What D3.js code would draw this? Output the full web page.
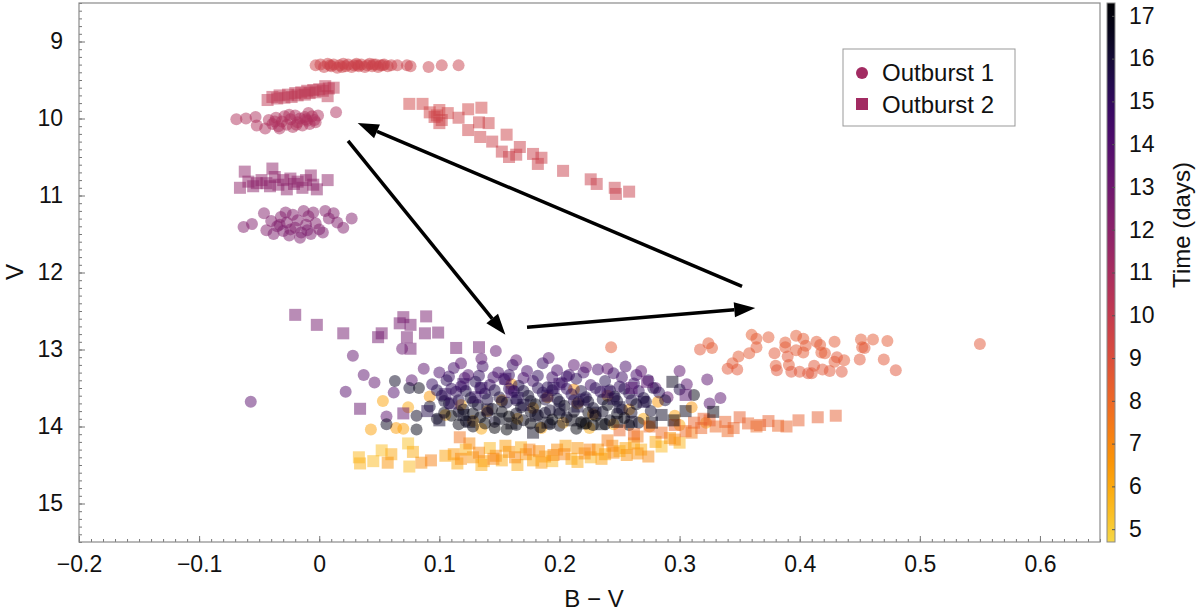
<!DOCTYPE html>
<html>
<head>
<meta charset="utf-8">
<script src="https://cdn.jsdelivr.net/npm/d3@7"></script>
<style>
  body { margin: 0; background: #fff; }
  text { font-family: "Liberation Sans", Arial, sans-serif; }
</style>
</head>
<body>
<div id="chart"></div>
<script>
// ---- data: [B-V, V, time (days)] ----
// Outburst 1 (circles)
const o1Rise = [
  [0.053,13.67,6.2],[0.074,13.75,6.0],[0.043,14.04,6.3],[0.064,14.02,6.4],[0.070,14.03,6.2],[0.092,13.61,6.5],
  [0.105,13.85,5.8],[0.118,13.72,6.0],[0.128,13.93,5.9],[0.140,13.80,6.1],[0.152,13.66,6.0],[0.165,13.90,5.7],
  [0.178,13.76,6.2],[0.190,13.62,6.3],[0.203,13.95,5.9],[0.215,13.70,6.0],[0.228,13.84,6.1],[0.240,13.60,6.4],
  [0.245,13.97,5.8],[0.258,13.78,6.2],[0.270,13.90,6.0],[0.282,13.68,6.5],[0.296,13.86,6.3],[0.310,13.75,6.6],
  [0.322,13.95,6.2],[0.212,13.52,6.6],[0.160,13.45,6.5],[0.135,14.03,6.0],[0.185,14.02,6.3],[0.225,14.02,5.9],
  [0.275,14.00,6.4],[0.300,13.98,6.1]
];
const o1Red = [
  [0.243,12.97,8.6],[0.317,13.00,8.7],[0.324,12.92,8.6],[0.327,12.98,8.5],[0.340,13.25,8.7],[0.344,13.18,8.6],
  [0.348,13.26,8.7],[0.349,13.09,8.5],[0.358,13.05,8.6],[0.360,12.81,8.4],[0.364,12.86,8.5],[0.364,12.97,8.6],
  [0.374,12.84,8.6],[0.379,13.05,8.7],[0.380,13.21,8.6],[0.381,13.27,8.8],[0.388,12.91,8.5],[0.388,12.97,8.6],
  [0.390,13.09,8.7],[0.391,13.20,8.6],[0.393,13.29,8.8],[0.397,12.82,8.5],[0.397,13.01,8.6],[0.400,13.29,8.7],
  [0.403,12.86,8.5],[0.405,12.95,8.6],[0.403,13.04,8.6],[0.407,13.31,8.8],[0.410,13.31,8.7],[0.414,12.90,8.6],
  [0.412,13.21,8.7],[0.417,12.94,8.5],[0.418,13.04,8.6],[0.419,13.26,8.7],[0.421,13.05,8.6],[0.425,13.28,8.7],
  [0.429,12.90,8.6],[0.429,13.16,8.6],[0.431,13.10,8.7],[0.435,13.29,8.8],[0.437,13.14,8.6],[0.450,13.13,8.7],
  [0.451,12.87,8.6],[0.452,12.97,8.6],[0.454,12.98,8.7],[0.461,12.87,8.6],[0.470,13.13,8.7],[0.473,12.89,8.6],
  [0.480,13.27,8.8],[0.550,12.93,8.7]
];
const o1Peak = [
  [-0.003,9.31,9.6],[0.001,9.30,9.6],[0.004,9.33,9.7],[0.007,9.29,9.6],[0.010,9.32,9.7],[0.012,9.30,9.6],
  [0.015,9.34,9.7],[0.017,9.31,9.6],[0.020,9.29,9.7],[0.022,9.32,9.6],[0.024,9.30,9.7],[0.027,9.33,9.6],
  [0.029,9.31,9.7],[0.031,9.29,9.6],[0.033,9.32,9.7],[0.035,9.30,9.6],[0.038,9.33,9.7],[0.040,9.31,9.6],
  [0.042,9.29,9.7],[0.044,9.32,9.6],[0.047,9.30,9.7],[0.049,9.33,9.6],[0.051,9.31,9.7],[0.053,9.31,9.6],
  [0.054,9.30,9.7],[0.057,9.32,9.6],[0.060,9.31,9.7],[0.065,9.31,9.7],[0.073,9.31,9.7],[0.076,9.32,9.7],
  [0.091,9.33,9.8],[0.102,9.31,9.8],[0.116,9.31,9.8],[0.009,9.31,9.6],[0.019,9.33,9.6],[0.032,9.31,9.6],
  [0.045,9.30,9.6]
];
const o1Fade1 = [
  [-0.069,10.01,10.7],[-0.061,10.00,10.7],[-0.053,9.98,10.8],[-0.052,10.09,10.7],[-0.045,10.13,10.8],
  [-0.042,10.02,10.7],[-0.039,10.07,10.8],[-0.036,9.99,10.7],[-0.034,10.10,10.8],[-0.031,10.04,10.7],
  [-0.029,9.97,10.8],[-0.027,10.08,10.7],[-0.024,10.01,10.8],[-0.022,10.11,10.7],[-0.020,9.96,10.8],
  [-0.018,10.05,10.7],[-0.016,10.00,10.8],[-0.014,10.09,10.7],[-0.012,9.98,10.8],[-0.010,10.03,10.7],
  [-0.008,10.07,10.8],[-0.006,9.97,10.7],[-0.004,10.02,10.8],[-0.003,10.05,10.7],[-0.001,9.96,10.8],
  [0.014,9.92,10.8],[-0.025,9.95,10.7],[-0.033,10.13,10.8],[-0.009,9.93,10.7],[-0.037,10.04,10.8],
  [-0.019,10.08,10.7],[-0.011,10.01,10.8]
];
const o1Fade2 = [
  [-0.063,11.41,12.4],[-0.056,11.37,12.4],[-0.046,11.23,12.3],[-0.044,11.45,12.4],[-0.040,11.33,12.4],
  [-0.038,11.50,12.5],[-0.035,11.40,12.4],[-0.032,11.28,12.3],[-0.030,11.46,12.5],[-0.027,11.35,12.4],
  [-0.025,11.52,12.5],[-0.022,11.25,12.3],[-0.020,11.42,12.4],[-0.018,11.32,12.4],[-0.015,11.48,12.5],
  [-0.013,11.20,12.3],[-0.011,11.38,12.4],[-0.009,11.27,12.3],[-0.007,11.50,12.5],[-0.005,11.22,12.3],
  [-0.003,11.36,12.4],[0.000,11.44,12.4],[0.003,11.48,12.5],[0.005,11.20,12.3],[0.008,11.30,12.4],
  [0.012,11.23,12.3],[0.015,11.35,12.4],[0.020,11.42,12.4],[0.027,11.30,12.4],[-0.028,11.22,12.3],
  [-0.016,11.55,12.5],[-0.033,11.38,12.4],[-0.024,11.44,12.4],[-0.010,11.45,12.5]
];
const o1Decline = [
  [0.028,13.08,13.4],[0.037,13.33,13.6],[0.046,13.43,13.5],[0.022,13.55,13.8],[-0.057,13.68,13.7],
  [0.062,13.56,13.9],[0.056,13.87,13.6],[0.069,12.99,13.2],[0.147,13.02,13.5],[0.135,13.12,13.7],
  [0.087,13.25,13.6],[0.077,13.40,13.8],[0.191,13.11,13.9],[0.164,13.14,13.6],[0.212,13.20,13.8],
  [0.222,13.23,13.5],[0.268,13.28,13.7],[0.300,13.28,13.6],[0.280,13.50,13.9],[0.290,13.62,13.5],
  [0.334,13.63,13.8],[0.323,13.39,13.7],[0.325,13.70,13.9],[0.306,13.45,13.8],[0.118,13.18,13.7],
  [0.240,13.25,13.6]
];
const o1Late = [
  [0.100,13.30,14.2],[0.112,13.24,14.5],[0.124,13.33,14.1],[0.136,13.22,14.6],[0.149,13.30,14.3],[0.161,13.20,14.7],
  [0.173,13.28,14.4],[0.186,13.18,14.8],[0.198,13.27,14.2],[0.208,13.33,14.6],[0.232,13.26,14.4],[0.245,13.31,14.7],
  [0.255,13.22,14.3],
  [0.108,13.35,14.8],[0.121,13.37,14.3],[0.133,13.34,15.0],[0.145,13.36,14.5],[0.158,13.33,14.9],[0.170,13.37,14.4],
  [0.182,13.34,15.1],[0.194,13.36,14.6],[0.206,13.35,14.9],[0.220,13.30,14.5],[0.252,13.36,14.7],[0.264,13.33,14.4],
  [0.094,13.45,14.9],[0.106,13.40,15.2],[0.118,13.48,14.6],[0.130,13.42,15.4],[0.142,13.46,14.8],[0.154,13.39,15.1],
  [0.166,13.47,15.5],[0.178,13.41,14.7],[0.190,13.49,15.3],[0.202,13.43,14.9],[0.214,13.38,15.2],[0.226,13.46,14.6],
  [0.238,13.41,15.4],[0.250,13.48,15.0],[0.262,13.44,14.8],[0.274,13.40,15.1],
  [0.098,13.53,15.4],[0.110,13.51,15.0],[0.122,13.54,15.7],[0.134,13.50,15.2],[0.146,13.53,15.6],[0.158,13.51,15.1],
  [0.170,13.54,15.8],[0.182,13.50,15.3],[0.194,13.53,15.5],[0.206,13.51,15.0],[0.218,13.54,15.7],[0.230,13.50,15.2],
  [0.242,13.53,15.6],[0.254,13.51,15.4],[0.266,13.54,15.1],[0.278,13.50,15.5],
  [0.102,13.60,15.6],[0.114,13.55,15.1],[0.126,13.63,16.0],[0.138,13.57,15.3],[0.150,13.62,15.8],[0.162,13.54,15.0],
  [0.174,13.60,16.1],[0.186,13.56,15.4],[0.198,13.64,15.9],[0.210,13.58,15.2],[0.222,13.62,15.7],[0.234,13.55,15.0],
  [0.246,13.61,16.2],[0.258,13.57,15.5],[0.270,13.63,15.8],[0.283,13.56,15.3],[0.300,13.52,15.6],
  [0.104,13.67,16.0],[0.116,13.66,15.5],[0.128,13.68,16.3],[0.140,13.65,15.7],[0.152,13.68,16.2],[0.164,13.66,15.6],
  [0.176,13.67,16.4],[0.188,13.65,15.8],[0.200,13.68,16.1],[0.212,13.66,15.5],[0.224,13.68,16.3],[0.236,13.65,15.9],
  [0.248,13.67,16.0],[0.260,13.66,15.6],[0.272,13.68,16.2],[0.288,13.66,15.9],
  [0.092,13.74,16.2],[0.108,13.70,15.8],[0.120,13.78,16.5],[0.132,13.72,16.0],[0.144,13.77,16.7],[0.156,13.69,15.9],
  [0.168,13.75,16.4],[0.180,13.71,16.8],[0.192,13.79,16.1],[0.204,13.73,16.6],[0.216,13.68,15.7],[0.228,13.76,16.3],
  [0.240,13.72,16.8],[0.252,13.78,16.0],[0.264,13.71,16.5],[0.276,13.80,16.2],
  [0.104,13.82,16.7],[0.116,13.81,16.3],[0.128,13.83,16.8],[0.140,13.82,16.2],[0.152,13.81,16.9],[0.164,13.83,16.4],
  [0.176,13.81,16.7],[0.188,13.82,16.3],[0.200,13.83,16.8],[0.212,13.81,16.5],[0.224,13.82,16.9],[0.236,13.81,16.4],
  [0.248,13.83,16.7],[0.260,13.82,16.3],
  [0.098,13.90,16.6],[0.110,13.86,17.0],[0.122,13.93,16.4],[0.134,13.88,16.9],[0.146,13.94,16.3],[0.158,13.87,17.1],
  [0.170,13.92,16.7],[0.182,13.85,16.5],[0.194,13.91,17.0],[0.206,13.88,16.4],[0.218,13.94,16.8],[0.230,13.86,17.2],
  [0.242,13.92,16.6],[0.254,13.89,16.9],[0.266,13.95,16.5],
  [0.116,13.97,16.9],[0.138,13.96,17.1],[0.176,13.96,17.0],[0.192,13.97,16.8],[0.222,13.96,17.1],[0.238,13.97,16.9],
  [0.258,13.98,17.2],
  [0.128,14.00,16.9],[0.146,14.02,17.2],[0.164,13.98,16.8],[0.184,14.01,17.1],[0.200,13.99,16.7],[0.214,14.03,17.0],
  [0.228,13.98,17.2],[0.156,14.04,17.1],
  [0.063,13.41,16.4],[0.083,13.50,16.7],[0.075,13.50,16.2],[0.056,13.97,16.5],[0.081,14.04,16.8],[0.081,13.86,16.5],
  [0.312,13.59,16.8]
];

// Outburst 2 (squares)
const o2Rise = [
  [0.033,14.40,5.6],[0.034,14.48,5.8],[0.052,14.31,5.4],[0.057,14.47,6.6],[0.074,14.22,5.3],[0.078,14.33,5.9],
  [0.075,14.52,5.5],[0.085,14.47,6.8],[0.093,14.44,7.2],[0.105,14.38,6.2],[0.112,14.36,6.5],[0.118,14.42,6.9],
  [0.122,14.30,5.8],[0.128,14.40,6.6],[0.133,14.34,7.0],[0.137,14.45,6.3],[0.142,14.28,5.6],[0.147,14.38,6.8],
  [0.152,14.44,6.1],[0.158,14.33,6.6],[0.163,14.40,7.0],[0.168,14.27,5.9],[0.172,14.36,6.7],[0.178,14.44,6.2],
  [0.183,14.32,6.9],[0.188,14.39,6.4],[0.194,14.45,5.7],[0.198,14.30,6.8],[0.204,14.36,7.1],[0.210,14.42,6.0],
  [0.215,14.28,6.6],[0.221,14.35,6.9],[0.226,14.40,5.8],[0.232,14.30,6.5],[0.238,14.36,6.2],[0.244,14.25,6.8],
  [0.250,14.32,5.6],[0.256,14.37,6.7],[0.262,14.22,6.3],[0.268,14.30,5.9],[0.274,14.39,7.0],[0.280,14.20,6.1],
  [0.285,14.26,5.5],[0.292,14.15,6.6],[0.300,14.21,5.7],[0.296,14.17,7.0],
  [0.115,14.48,6.0],[0.125,14.22,6.9],[0.135,14.50,5.9],[0.145,14.42,7.1],[0.155,14.25,6.4],[0.165,14.50,6.0],
  [0.175,14.30,7.2],[0.185,14.47,6.5],[0.195,14.37,7.0],[0.205,14.25,6.3],[0.215,14.46,6.1],[0.225,14.30,7.1],
  [0.235,14.42,6.4],[0.245,14.34,7.0],[0.255,14.28,6.2],[0.265,14.35,6.8],[0.060,14.36,6.0],[0.045,14.45,5.5],
  [0.117,14.14,7.6],[0.265,14.13,7.4],[0.240,14.18,7.3],[0.310,14.08,7.4]
];
const o2Red = [
  [0.250,14.05,8.1],[0.262,14.10,8.0],[0.275,14.00,8.2],[0.285,14.08,7.9],[0.296,13.98,8.3],[0.305,14.06,8.0],
  [0.312,13.95,8.2],[0.318,14.02,8.1],[0.325,13.92,8.3],[0.330,14.00,8.0],[0.338,13.94,8.2],[0.345,14.02,8.1],
  [0.350,13.88,8.3],[0.357,13.96,8.2],[0.364,14.00,8.0],[0.367,13.98,8.2],[0.374,13.93,8.3],[0.382,13.99,8.1],
  [0.389,14.00,8.2],[0.399,13.92,8.3],[0.415,13.88,8.4],[0.430,13.86,8.4],[0.340,14.06,8.0],[0.320,13.90,8.3]
];
const o2Peak = [
  [0.075,9.81,9.5],[0.086,9.81,9.5],[0.092,9.92,9.5],[0.096,9.98,9.6],[0.100,9.89,9.5],[0.102,10.02,9.6],
  [0.107,9.93,9.5],[0.100,10.06,9.6],[0.098,9.96,9.5],[0.116,9.99,9.6],[0.124,9.88,9.5],[0.135,9.86,9.5],
  [0.124,10.15,9.6],[0.133,10.05,9.6],[0.141,10.06,9.6],[0.134,10.24,9.6],[0.144,10.30,9.7],[0.156,10.21,9.6],
  [0.152,10.43,9.7],[0.158,10.50,9.7],[0.167,10.37,9.7],[0.164,10.47,9.7],[0.178,10.46,9.7],[0.185,10.51,9.7],
  [0.182,10.59,9.7],[0.203,10.68,9.8],[0.226,10.79,9.8],[0.231,10.85,9.8],[0.246,10.90,9.8],[0.247,10.98,9.8],
  [0.258,10.95,9.8]
];
const o2Fade1 = [
  [-0.043,9.76,10.2],[-0.039,9.72,10.2],[-0.035,9.74,10.3],[-0.033,9.70,10.2],[-0.029,9.73,10.3],[-0.026,9.69,10.2],
  [-0.023,9.72,10.3],[-0.020,9.67,10.2],[-0.018,9.70,10.3],[-0.015,9.66,10.2],[-0.012,9.69,10.3],[-0.010,9.64,10.2],
  [-0.008,9.67,10.3],[-0.005,9.63,10.2],[-0.003,9.66,10.3],[0.000,9.62,10.2],[0.003,9.64,10.3],[0.005,9.58,10.2],
  [0.008,9.61,10.3],[0.007,9.71,10.3],[0.012,9.60,10.2]
];
const o2Fade2 = [
  [-0.066,10.90,11.9],[-0.062,10.69,11.9],[-0.059,10.82,11.9],[-0.055,10.88,12.0],[-0.052,10.84,11.9],
  [-0.048,10.80,11.9],[-0.044,10.84,12.0],[-0.039,10.65,11.9],[-0.037,10.76,11.9],[-0.034,10.86,12.0],
  [-0.030,10.80,11.9],[-0.027,10.92,12.0],[-0.024,10.78,11.9],[-0.021,10.85,12.0],[-0.018,10.82,11.9],
  [-0.014,10.90,12.0],[-0.011,10.80,11.9],[-0.007,10.74,11.9],[-0.005,10.86,12.0],[-0.002,10.92,12.0],
  [0.007,10.80,11.9],[-0.041,10.88,12.0]
];
const o2Decline = [
  [-0.020,12.55,12.8],[-0.002,12.68,12.8],[0.020,12.79,12.9],[0.049,12.84,12.9],[0.052,12.79,12.8],
  [0.070,12.58,12.7],[0.067,12.66,12.8],[0.076,12.68,12.8],[0.073,12.84,12.9],[0.076,12.99,13.0],
  [0.089,12.57,12.7],[0.088,12.79,12.9],[0.099,12.78,12.9],[0.114,12.98,13.0],[0.133,12.97,13.1],
  [0.034,13.77,13.3],[0.070,13.83,13.4],[0.273,13.42,13.8],[0.260,13.50,13.9],[0.305,13.59,14.0]
];
const o2Late = [
  [0.328,13.81,16.8],[0.295,13.92,16.9],[0.277,13.95,16.7],[0.260,13.94,16.5],[0.248,13.94,16.9],[0.178,14.08,16.6],
  [0.294,13.42,16.5],[0.090,13.80,15.5],[0.100,13.92,16.2],[0.110,13.70,15.2],[0.120,13.85,16.6],[0.130,13.62,15.0],
  [0.140,13.78,16.1],[0.150,13.90,16.8],[0.160,13.55,14.8],[0.170,13.72,15.8],[0.180,13.86,16.4],[0.190,13.60,15.3],
  [0.200,13.78,16.0],[0.210,13.92,16.9],[0.220,13.65,15.5],[0.230,13.82,16.3],[0.240,13.55,15.0],[0.250,13.75,16.0],
  [0.235,13.97,17.0],[0.270,13.68,15.6],[0.285,13.85,16.4],[0.305,13.80,16.6],[0.200,13.45,14.8],[0.155,13.38,14.6],
  [0.120,13.45,14.9],[0.105,13.58,15.1],[0.135,13.50,15.0],[0.165,13.63,15.4],[0.195,13.50,15.2],[0.215,13.74,15.9],
  [0.245,13.64,15.5],[0.125,13.94,16.7],[0.160,13.96,16.9],[0.190,13.95,16.6],[0.220,13.96,17.1]
];

// arrows [B-V start, V start, B-V end, V end]
const arrows = [
  [0.024, 10.29, 0.155, 12.81],
  [0.173, 12.71, 0.363, 12.46],
  [0.352, 12.18, 0.032, 10.06]
];

const xTicks = [-0.2, -0.1, 0, 0.1, 0.2, 0.3, 0.4, 0.5, 0.6];
const yTicks = [9, 10, 11, 12, 13, 14, 15];
const cTicks = [5, 6, 7, 8, 9, 10, 11, 12, 13, 14, 15, 16, 17];
const legendLabels = ["Outburst 1", "Outburst 2"];

// ---- layout ----
var W = 1200, H = 611;
var plot = {left: 79, right: 1100, top: 3, bottom: 542};
var bar = {left: 1107, right: 1115};

var svg = d3.select("#chart").append("svg")
  .attr("width", W).attr("height", H);

var x = d3.scaleLinear().domain([-0.2, 0.65]).range([plot.left, plot.right]);
var y = d3.scaleLinear().domain([8.5, 15.5]).range([plot.top, plot.bottom]);
var c = d3.scaleLinear().domain([4.7, 17.3]).range([plot.bottom, plot.top]);

// inferno reversed, cut at 0.9 at the faint end
var color = t => d3.interpolateInferno(Math.max(0, Math.min(0.9, 0.9 * (17.3 - t) / 12.6)));

svg.append("defs").append("clipPath").attr("id", "clip")
  .append("rect")
  .attr("x", plot.left).attr("y", plot.top)
  .attr("width", plot.right - plot.left).attr("height", plot.bottom - plot.top);

var marks = svg.append("g").attr("clip-path", "url(#clip)");

// circles - outburst 1, ordered by time
var o1 = [].concat(o1Rise, o1Red, o1Peak, o1Fade1, o1Fade2, o1Decline, o1Late)
  .sort((a, b) => a[2] - b[2]);
marks.selectAll(".o1").data(o1).enter()
  .append("circle")
  .attr("cx", d => x(d[0]))
  .attr("cy", d => y(d[1]))
  .attr("r", 6)
  .attr("fill", d => color(d[2]))
  .attr("fill-opacity", 0.5);

// squares - outburst 2
var sq = 12;
var o2 = [].concat(o2Rise, o2Red, o2Peak, o2Fade1, o2Fade2, o2Decline, o2Late)
  .sort((a, b) => a[2] - b[2]);
marks.selectAll(".o2").data(o2).enter()
  .append("rect")
  .attr("x", d => x(d[0]) - sq / 2)
  .attr("y", d => y(d[1]) - sq / 2)
  .attr("width", sq).attr("height", sq)
  .attr("fill", d => color(d[2]))
  .attr("fill-opacity", 0.5);

// arrows
var headLen = 21, headHalf = 7.5;
arrows.forEach(function(a) {
  var x0 = x(a[0]), y0 = y(a[1]), x1 = x(a[2]), y1 = y(a[3]);
  var ang = Math.atan2(y1 - y0, x1 - x0);
  var bx = x1 - headLen * Math.cos(ang), by = y1 - headLen * Math.sin(ang);
  svg.append("line")
    .attr("x1", x0).attr("y1", y0).attr("x2", bx).attr("y2", by)
    .attr("stroke", "#000").attr("stroke-width", 3.5);
  var px = -Math.sin(ang) * headHalf, py = Math.cos(ang) * headHalf;
  svg.append("polygon")
    .attr("points", [[x1, y1], [bx + px, by + py], [bx - px, by - py]].map(p => p.join(",")).join(" "))
    .attr("fill", "#000");
});

// axes
var fmt = d => d === 0 ? "0" : d3.format(".1f")(d);
var gx = svg.append("g").attr("transform", "translate(0," + plot.bottom + ")");
gx.call(d3.axisBottom(x).tickValues(d3.range(-0.2, 0.6501, 0.01)).tickSize(-3).tickFormat(""));
gx.append("g").call(d3.axisBottom(x).tickValues(xTicks).tickSize(-6).tickPadding(14).tickFormat(fmt));

var gy = svg.append("g").attr("transform", "translate(" + plot.left + ",0)");
gy.call(d3.axisLeft(y).tickValues(d3.range(8.5, 15.501, 0.1)).tickSize(-3).tickFormat(""));
gy.append("g").call(d3.axisLeft(y).tickValues(yTicks).tickSize(-6).tickPadding(16).tickFormat(d3.format("d")));

svg.selectAll(".domain").remove();
svg.selectAll(".tick line").attr("stroke", "#777");
svg.selectAll(".tick text").attr("font-size", 23).attr("fill", "#111")
  .style("font-family", "'Liberation Sans', Arial, sans-serif");

// frame
svg.append("rect")
  .attr("x", plot.left).attr("y", plot.top)
  .attr("width", plot.right - plot.left).attr("height", plot.bottom - plot.top)
  .attr("fill", "none").attr("stroke", "#8a8a8a").attr("stroke-width", 1.2);

// axis labels
svg.append("text").attr("x", 594).attr("y", 607).attr("text-anchor", "middle")
  .attr("font-size", 24).attr("fill", "#111").text("B \u2212 V");
svg.append("text").attr("transform", "translate(23,272) rotate(-90)").attr("text-anchor", "middle")
  .attr("font-size", 24).attr("fill", "#111").text("V");

// colorbar
var grad = svg.select("defs").append("linearGradient").attr("id", "cbar")
  .attr("x1", 0).attr("y1", 1).attr("x2", 0).attr("y2", 0);
d3.range(0, 1.0001, 0.05).forEach(function(f) {
  var t = 4.7 + f * 12.6;
  grad.append("stop").attr("offset", f).attr("stop-color", color(t));
});
svg.append("rect")
  .attr("x", bar.left).attr("y", plot.top)
  .attr("width", bar.right - bar.left).attr("height", plot.bottom - plot.top)
  .attr("fill", "url(#cbar)").attr("stroke", "#8a8a8a").attr("stroke-width", 1);

var gc = svg.append("g").attr("transform", "translate(" + bar.right + ",0)")
  .call(d3.axisRight(c).tickValues(cTicks).tickSize(-3).tickPadding(14));
gc.select(".domain").remove();
gc.selectAll(".tick line").attr("stroke", "#555");
gc.selectAll(".tick text").attr("font-size", 23).attr("fill", "#111")
  .style("font-family", "'Liberation Sans', Arial, sans-serif");

svg.append("text").attr("transform", "translate(1190,225) rotate(-90)").attr("text-anchor", "middle")
  .attr("font-size", 24).attr("fill", "#111").text("Time (days)");

// legend
var lg = svg.append("g");
lg.append("rect").attr("x", 843).attr("y", 49).attr("width", 172).attr("height", 77)
  .attr("fill", "#fff").attr("stroke", "#999").attr("stroke-width", 1);
var legendColor = color(11.2);
lg.append("circle").attr("cx", 862).attr("cy", 73).attr("r", 6).attr("fill", legendColor);
lg.append("rect").attr("x", 856).attr("y", 98).attr("width", 12).attr("height", 12).attr("fill", legendColor);
legendLabels.forEach(function(l, i) {
  lg.append("text").attr("x", 882).attr("y", 81 + i * 32)
    .attr("font-size", 24).attr("fill", "#111").text(l);
});
</script>
</body>
</html>
